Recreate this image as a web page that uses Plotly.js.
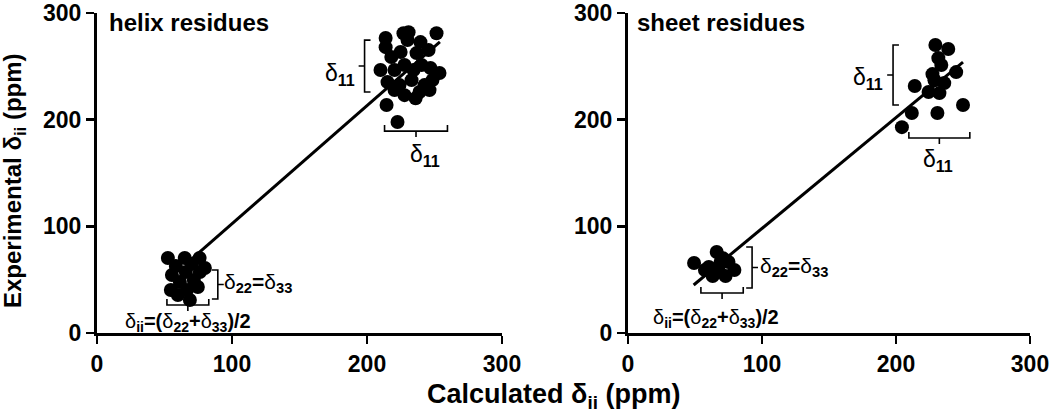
<!DOCTYPE html>
<html>
<head>
<meta charset="utf-8">
<script src="https://cdn.plot.ly/plotly-3.0.1.min.js"></script>
<style>
  html, body { margin:0; padding:0; background:#fff; }
  #chart { width:1050px; height:414px; }
</style>
</head>
<body>
<div id="chart"></div>
<script>
// helix residues: delta11 cluster and delta22=delta33 cluster
const helixHighX = [213.8, 213.8, 227, 230.8, 230, 239.6, 251.5, 218, 224.9, 236.7, 245.6, 210, 220.4, 227.8, 234.5, 240.4, 247, 253.7, 215.2, 224.1, 233, 242.6, 248.5, 214.5, 222.6, 227.8, 236, 246.3, 238.9, 220.4];
const helixHighY = [276.5, 268, 281, 282, 274.6, 272.7, 281, 258.7, 263.4, 262.4, 265.2, 246.5, 246.5, 251.2, 246.5, 251.2, 248.4, 243.7, 235.2, 232.4, 237.1, 232.4, 237.1, 213.7, 197.8, 223, 220, 227.7, 225.9, 227.7];
const helixLowX = [52.5, 65, 76, 58.4, 70.3, 55.5, 65.8, 76.2, 61.4, 71.7, 54.7, 66.6, 74.7, 68.8, 59.9, 79.9];
const helixLowY = [70.3, 70.3, 70.3, 62.8, 64.7, 54.4, 57.2, 57.2, 47.8, 49.7, 40.3, 40.3, 43.1, 30.9, 35.6, 61];
const helixFitX = [68, 254];
const helixFitY = [67, 273];

// sheet residues
const sheetHighX = [229.4, 239, 231.6, 233.8, 227.2, 244.9, 214, 224.3, 232.4, 211.8, 230.9, 250, 204.4, 236, 228.7];
const sheetHighY = [270, 266.2, 257.7, 251.2, 242.7, 244.6, 231.5, 225.9, 224.9, 206.2, 206.2, 213.7, 193, 234.3, 237];
const sheetLowX = [49.3, 66.2, 60.3, 67.6, 75, 79.4, 63.2, 72.8, 57.4, 69.1, 71];
const sheetLowY = [65.6, 75.9, 61.9, 59, 66.5, 59, 53.4, 53.4, 59, 66.5, 70];
const sheetFitX = [49, 250];
const sheetFitY = [45, 254];

const tickVals = [0, 100, 200, 300];

const FONT = 'Liberation Sans, Arial, sans-serif';
const dot = {color:'black', size:14};

function pts(x, y, xa, ya){
  return {type:'scatter', mode:'markers', x, y, xaxis:xa, yaxis:ya, marker:dot, cliponaxis:false, showlegend:false, hoverinfo:'skip'};
}
function fit(x, y, xa, ya){
  return {type:'scatter', mode:'lines', x, y, xaxis:xa, yaxis:ya, line:{color:'black', width:3}, cliponaxis:false, showlegend:false, hoverinfo:'skip'};
}

// bracket helpers (dir=1: arms point right / up)
function vBracket(xr, yr, x, y0, y1, dir){
  const e = 4.4*dir, ym = (y0+y1)/2;
  return {type:'path', xref:xr, yref:yr, line:{color:'black', width:1.6},
    path:`M${x+e},${y0} L${x},${y0} L${x},${y1} L${x+e},${y1} M${x},${ym} L${x-e},${ym}`};
}
function hBracket(xr, yr, x0, x1, y){
  const e = 5.6, xm = (x0+x1)/2;
  return {type:'path', xref:xr, yref:yr, line:{color:'black', width:1.6},
    path:`M${x0},${y+e} L${x0},${y} L${x1},${y} L${x1},${y+e} M${xm},${y} L${xm},${y-e}`};
}

function axis(domain, anchor){
  return {
    domain, anchor, range:[0,300], tickvals:tickVals, showgrid:false, zeroline:false,
    showline:true, linewidth:3, linecolor:'black', ticks:'outside', ticklen:8, tickwidth:2.5, tickcolor:'black',
    ticklabeloverflow:'allow',
    tickfont:{family:FONT, size:23, color:'black', weight:700}, fixedrange:true
  };
}

function note(xr, yr, x, y, text, size, opts){
  return Object.assign({xref:xr, yref:yr, x, y, text, showarrow:false,
    font:{family:FONT, size, color:'black'}, xanchor:'center', yanchor:'middle'}, opts||{});
}

const data = [
  fit(helixFitX, helixFitY, 'x', 'y'),
  pts(helixHighX, helixHighY, 'x', 'y'),
  pts(helixLowX, helixLowY, 'x', 'y'),
  fit(sheetFitX, sheetFitY, 'x2', 'y2'),
  pts(sheetHighX, sheetHighY, 'x2', 'y2'),
  pts(sheetLowX, sheetLowY, 'x2', 'y2')
];

const d11 = 'δ<sub><b>11</b></sub>';
const d2233 = 'δ<sub><b>22</b></sub><b>=</b>δ<sub><b>33</b></sub>';
const dii = 'δ<sub><b>ii</b></sub><b>=(</b>δ<sub><b>22</b></sub><b>+</b>δ<sub><b>33</b></sub><b>)/2</b>';

const layout = {
  width:1050, height:414,
  margin:{l:0, r:0, t:13, b:81},
  paper_bgcolor:'white', plot_bgcolor:'white',
  xaxis: axis([97/1050, 502/1050], 'y'),
  yaxis: axis([0, 1], 'x'),
  xaxis2: axis([628/1050, 1030/1050], 'y2'),
  yaxis2: axis([0, 1], 'x2'),
  shapes: [
    vBracket('x', 'y', 198.2, 274.6, 225.9, 1),
    hBracket('x', 'y', 213, 259.6, 189.3),
    vBracket('x', 'y', 89.5, 59, 31.9, -1),
    hBracket('x', 'y', 51.8, 82.8, 26.2),
    vBracket('x2', 'y2', 197.8, 270, 213.7, 1),
    hBracket('x2', 'y2', 209.6, 255.1, 182.8),
    vBracket('x2', 'y2', 92.6, 80.6, 42.2, -1),
    hBracket('x2', 'y2', 54.4, 86, 37.5)
  ],
  annotations: [
    note('x', 'y', 7.4, 291.5, '<b>helix residues</b>', 24, {xanchor:'left'}),
    note('x2', 'y2', 5.1, 291.5, '<b>sheet residues</b>', 24, {xanchor:'left'}),
    note('x', 'y', 180, 242, d11, 23),
    note('x', 'y', 242.6, 166.8, d11, 23),
    note('x', 'y', 92.5, 46.9, d2233, 21, {xanchor:'left'}),
    note('x', 'y', 67.3, 10.3, dii, 20),
    note('x2', 'y2', 179.4, 239, d11, 23),
    note('x2', 'y2', 231.6, 162, d11, 23),
    note('x2', 'y2', 97, 61.9, d2233, 21, {xanchor:'left'}),
    note('x2', 'y2', 66, 14, dii, 20),
    note('paper', 'paper', 553/1050, -0.198, '<b>Calculated δ<sub>ii</sub> (ppm)</b>', 27),
    note('paper', 'paper', 14/1050, 0.475, '<b>Experimental δ<sub>ii</sub> (ppm)</b>', 24, {textangle:-90})
  ]
};

Plotly.newPlot('chart', data, layout, {staticPlot:true, displayModeBar:false});
</script>
</body>
</html>
